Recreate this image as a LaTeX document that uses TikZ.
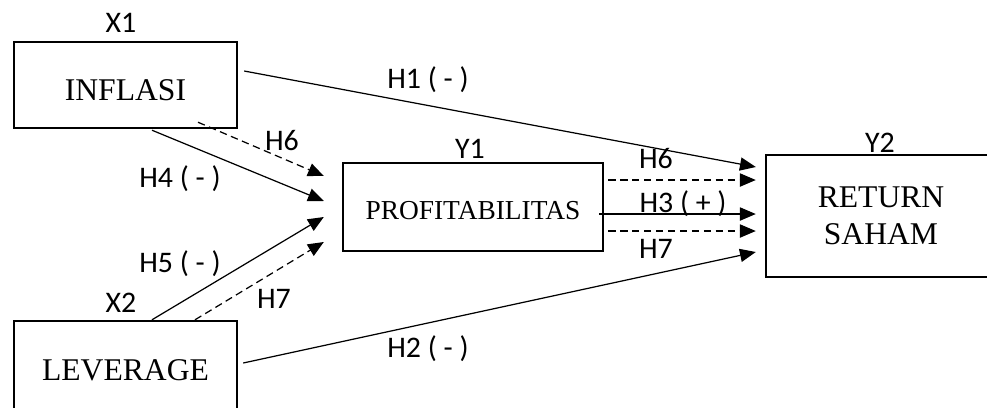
\documentclass[tikz,border=0pt]{standalone}
\usepackage{fontspec}
\setmainfont{Liberation Serif}
\newfontfamily\lblfont{Carlito}
\usetikzlibrary{positioning, arrows.meta, calc}
\tikzset{
  rsbox/.style  = {draw, line width=1.4pt, fill=white, align=center, inner sep=0pt,
                   font=\fontsize{18}{21}\selectfont},
  rsgo/.style   = {-{Triangle[length=9pt,width=7.5pt]}, line width=0.7pt},
  rsdash/.style = {rsgo, dash pattern=on 4.2pt off 2.6pt},
  rslab/.style  = {font=\lblfont\fontsize{17}{20}\selectfont, anchor=base, inner sep=0pt},
}

\begin{document}
\begin{tikzpicture}[x=0.02cm, y=-0.02cm]
\useasboundingbox (0,0) rectangle (987,407);
\clip (0,0) rectangle (987,407);

\node[rsbox, minimum width=4.46cm, minimum height=1.72cm, text height=0.6cm, text depth=0pt]
  (inf) at (125.5,85) {INFLASI};
\node[rsbox, minimum width=4.46cm, minimum height=1.88cm, text height=0.48cm, text depth=0pt]
  (lev) at (125.5,368) {LEVERAGE};
\node[rsbox, minimum width=5.2cm, minimum height=1.76cm, text height=0.48cm, text depth=0pt,
  font=\fontsize{15.6}{18}\selectfont] (prof) at (473,207) {PROFITABILITAS};
\node[rsbox, minimum width=4.6cm, minimum height=2.44cm] (ret) at (881,216) {RETURN\\SAHAM};

\node[rslab] (x1) at (121,32)  {X1};
\node[rslab] (x2) at (121,312) {X2};
\node[rslab] (y1) at (470,158) {Y1};
\node[rslab] (y2) at (880,152) {Y2};

% direct paths
\draw[rsgo] ($(inf.east)+(6,-14)$) -- ($(ret.west)+(-9,-49)$);
\draw[rsgo] ($(lev.east)+(5,-5)$)  -- ($(ret.west)+(-9,36)$);
\node[rslab] (lh1) at (428,88)  {H1 ( - )};
\node[rslab] (lh2) at (428,357) {H2 ( - )};

% into profitabilitas
\draw[rsdash] ($(inf.south)+(72.5,-7)$) -- ($(prof.west)+(-18,-31)$);
\draw[rsgo]   ($(inf.south)+(26.5,1)$)  -- ($(prof.west)+(-18,-6)$);
\draw[rsgo]   ($(lev.north)+(26.5,0)$)  -- ($(prof.west)+(-18,10)$);
\draw[rsdash] ($(lev.north)+(69.5,0)$)  -- ($(prof.west)+(-18,35)$);
\node[rslab] (lh6a) at (282,150) {H6};
\node[rslab] (lh4)  at (180,187) {H4 ( - )};
\node[rslab] (lh5)  at (180,272) {H5 ( - )};
\node[rslab] (lh7a) at (274,308) {H7};

% out of profitabilitas
\draw[rsdash] ($(prof.east)+(4,-27)$) -- ($(ret.west)+(-9,-36)$);
\draw[rsgo]   ($(prof.east)+(-5,7)$)  -- ($(ret.west)+(-9,-2)$);
\draw[rsdash] ($(prof.east)+(4,24)$)  -- ($(ret.west)+(-9,15)$);
\node[rslab] (lh6b) at (656,168) {H6};
\node[rslab] (lh3)  at (683,212) {H3 ( + )};
\node[rslab] (lh7b) at (656,258) {H7};
\end{tikzpicture}
\end{document}
